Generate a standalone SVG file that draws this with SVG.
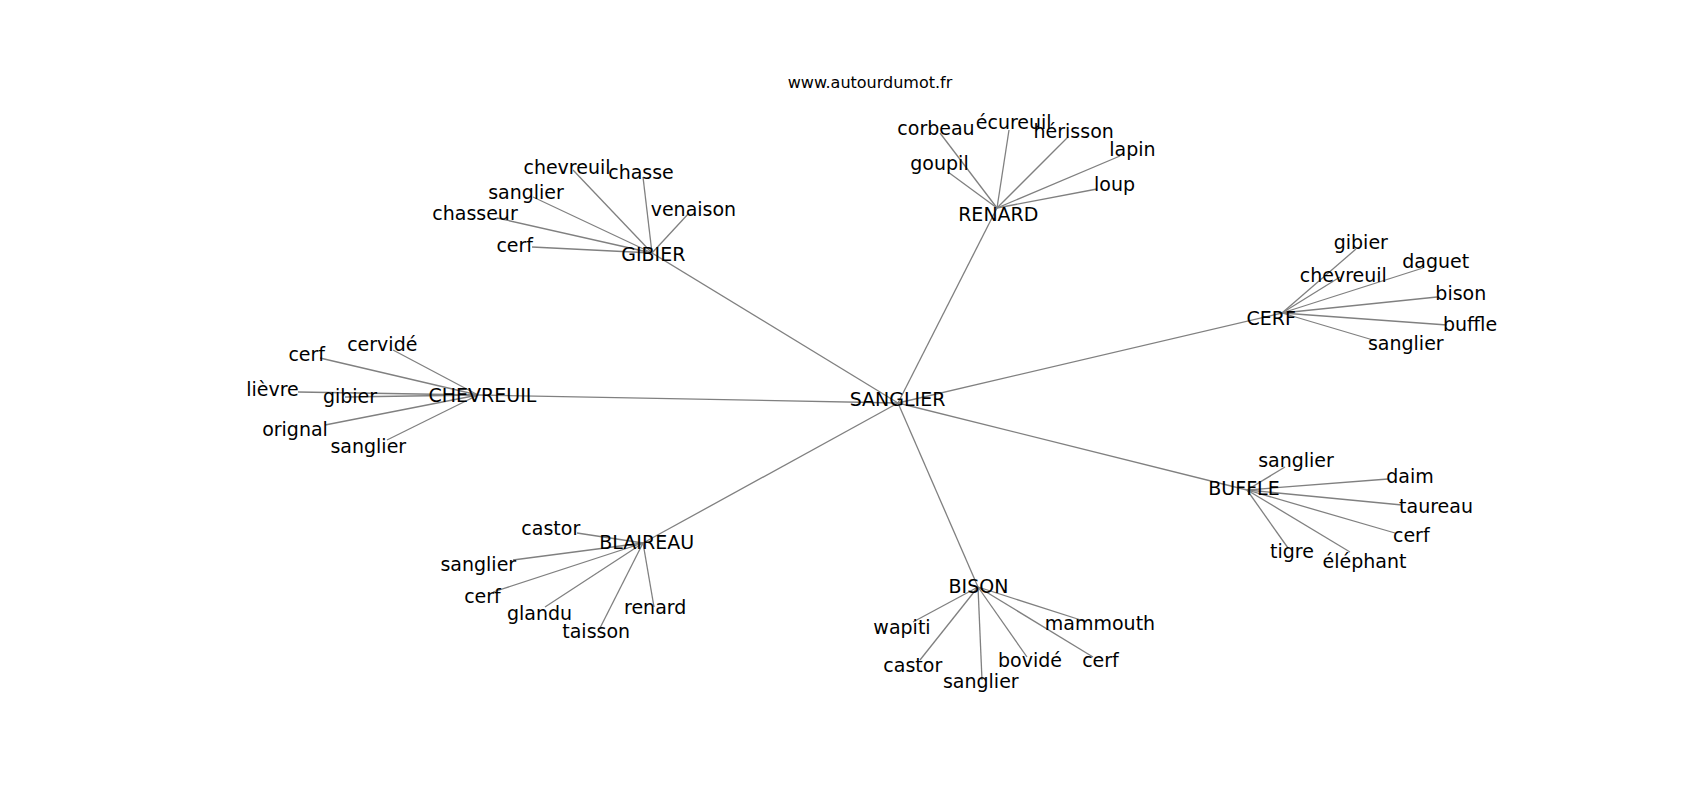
<svg xmlns="http://www.w3.org/2000/svg" width="1700" height="800" viewBox="0 0 1700 800">
<style>
.e line{stroke:#808080;stroke-width:1.3;fill:none}
text{font-family:"DejaVu Sans","Liberation Sans",sans-serif;font-size:19px;fill:#000;text-anchor:middle}
.title{font-size:16px}
</style>
<rect width="1700" height="800" fill="#fff"/>
<g id="connectors" class="e">
<line x1="898" y1="403" x2="652" y2="253"/>
<line x1="898" y1="403" x2="997" y2="208"/>
<line x1="898" y1="403" x2="1282" y2="313"/>
<line x1="898" y1="403" x2="1247" y2="490"/>
<line x1="898" y1="403" x2="978" y2="587"/>
<line x1="898" y1="403" x2="643" y2="543"/>
<line x1="898" y1="403" x2="478" y2="395"/>
<line x1="652" y1="253" x2="573" y2="170"/>
<line x1="652" y1="253" x2="643" y2="177"/>
<line x1="652" y1="253" x2="533" y2="197"/>
<line x1="652" y1="253" x2="497" y2="218"/>
<line x1="652" y1="253" x2="689" y2="213"/>
<line x1="652" y1="253" x2="532" y2="247"/>
<line x1="997" y1="208" x2="940" y2="133"/>
<line x1="997" y1="208" x2="1009" y2="130"/>
<line x1="997" y1="208" x2="1068" y2="137"/>
<line x1="997" y1="208" x2="1120" y2="156"/>
<line x1="997" y1="208" x2="948" y2="172"/>
<line x1="997" y1="208" x2="1097" y2="189"/>
<line x1="1282" y1="313" x2="1356" y2="249"/>
<line x1="1282" y1="313" x2="1423" y2="268"/>
<line x1="1282" y1="313" x2="1340" y2="277"/>
<line x1="1282" y1="313" x2="1437" y2="297"/>
<line x1="1282" y1="313" x2="1447" y2="325"/>
<line x1="1282" y1="313" x2="1373" y2="340"/>
<line x1="1247" y1="490" x2="1285" y2="467"/>
<line x1="1247" y1="490" x2="1388" y2="479"/>
<line x1="1247" y1="490" x2="1402" y2="505"/>
<line x1="1247" y1="490" x2="1395" y2="533"/>
<line x1="1247" y1="490" x2="1288" y2="548"/>
<line x1="1247" y1="490" x2="1350" y2="552"/>
<line x1="978" y1="587" x2="913" y2="622"/>
<line x1="978" y1="587" x2="1087" y2="622"/>
<line x1="978" y1="587" x2="920" y2="660"/>
<line x1="978" y1="587" x2="1027" y2="657"/>
<line x1="978" y1="587" x2="1093" y2="657"/>
<line x1="978" y1="587" x2="982" y2="680"/>
<line x1="643" y1="543" x2="577" y2="533"/>
<line x1="643" y1="543" x2="513" y2="560"/>
<line x1="643" y1="543" x2="493" y2="592"/>
<line x1="643" y1="543" x2="545" y2="607"/>
<line x1="643" y1="543" x2="600" y2="628"/>
<line x1="643" y1="543" x2="654" y2="607"/>
<line x1="478" y1="395" x2="393" y2="350"/>
<line x1="478" y1="395" x2="320" y2="358"/>
<line x1="478" y1="395" x2="298" y2="392"/>
<line x1="478" y1="395" x2="345" y2="397"/>
<line x1="478" y1="395" x2="325" y2="425"/>
<line x1="478" y1="395" x2="387" y2="440"/>
</g>
<text class="title" x="870" y="88">www.autourdumot.fr</text>
<g id="n-sanglier"><text x="897.5" y="406">SANGLIER</text></g>
<g id="n-gibier"><text x="653.3" y="260.7">GIBIER</text></g>
<g id="n-gibier-chevreuil"><text x="567" y="174.3">chevreuil</text></g>
<g id="n-gibier-chasse"><text x="641" y="179">chasse</text></g>
<g id="n-gibier-sanglier"><text x="526" y="198.5">sanglier</text></g>
<g id="n-gibier-chasseur"><text x="475" y="220">chasseur</text></g>
<g id="n-gibier-venaison"><text x="693.4" y="216">venaison</text></g>
<g id="n-gibier-cerf"><text x="514.7" y="251.7">cerf</text></g>
<g id="n-renard"><text x="998.3" y="221">RENARD</text></g>
<g id="n-renard-corbeau"><text x="936" y="135">corbeau</text></g>
<g id="n-renard-ecureuil"><text x="1013.7" y="129.3">écureuil</text></g>
<g id="n-renard-herisson"><text x="1073.7" y="137.7">hérisson</text></g>
<g id="n-renard-lapin"><text x="1132.5" y="156">lapin</text></g>
<g id="n-renard-goupil"><text x="939.5" y="170">goupil</text></g>
<g id="n-renard-loup"><text x="1114.5" y="190.7">loup</text></g>
<g id="n-cerf"><text x="1271.3" y="325">CERF</text></g>
<g id="n-cerf-gibier"><text x="1360.8" y="249">gibier</text></g>
<g id="n-cerf-daguet"><text x="1435.8" y="268.3">daguet</text></g>
<g id="n-cerf-chevreuil"><text x="1343.3" y="282.3">chevreuil</text></g>
<g id="n-cerf-bison"><text x="1460.8" y="300">bison</text></g>
<g id="n-cerf-buffle"><text x="1470" y="331">buffle</text></g>
<g id="n-cerf-sanglier"><text x="1405.8" y="350">sanglier</text></g>
<g id="n-buffle"><text x="1244" y="495">BUFFLE</text></g>
<g id="n-buffle-sanglier"><text x="1296" y="466.7">sanglier</text></g>
<g id="n-buffle-daim"><text x="1410" y="483.3">daim</text></g>
<g id="n-buffle-taureau"><text x="1436" y="513.3">taureau</text></g>
<g id="n-buffle-cerf"><text x="1411.3" y="541.7">cerf</text></g>
<g id="n-buffle-tigre"><text x="1292" y="558.3">tigre</text></g>
<g id="n-buffle-elephant"><text x="1364.5" y="567.7">éléphant</text></g>
<g id="n-bison"><text x="978.5" y="592.7">BISON</text></g>
<g id="n-bison-wapiti"><text x="902" y="634">wapiti</text></g>
<g id="n-bison-mammouth"><text x="1100" y="630">mammouth</text></g>
<g id="n-bison-castor"><text x="912.8" y="671.7">castor</text></g>
<g id="n-bison-bovide"><text x="1030" y="667.3">bovidé</text></g>
<g id="n-bison-cerf"><text x="1100.5" y="667.3">cerf</text></g>
<g id="n-bison-sanglier"><text x="980.8" y="688.3">sanglier</text></g>
<g id="n-blaireau"><text x="646.7" y="549.3">BLAIREAU</text></g>
<g id="n-blaireau-castor"><text x="550.8" y="535">castor</text></g>
<g id="n-blaireau-sanglier"><text x="478.3" y="570.7">sanglier</text></g>
<g id="n-blaireau-cerf"><text x="482.5" y="603.3">cerf</text></g>
<g id="n-blaireau-glandu"><text x="539.5" y="620">glandu</text></g>
<g id="n-blaireau-taisson"><text x="596.2" y="638.3">taisson</text></g>
<g id="n-blaireau-renard"><text x="655.2" y="614">renard</text></g>
<g id="n-chevreuil"><text x="482.5" y="402.3">CHEVREUIL</text></g>
<g id="n-chevreuil-cervide"><text x="382.3" y="350.7">cervidé</text></g>
<g id="n-chevreuil-cerf"><text x="306.7" y="360.7">cerf</text></g>
<g id="n-chevreuil-lievre"><text x="272.5" y="396">lièvre</text></g>
<g id="n-chevreuil-gibier"><text x="350" y="402.7">gibier</text></g>
<g id="n-chevreuil-orignal"><text x="295" y="436">orignal</text></g>
<g id="n-chevreuil-sanglier"><text x="368.3" y="452.7">sanglier</text></g>
</svg>
